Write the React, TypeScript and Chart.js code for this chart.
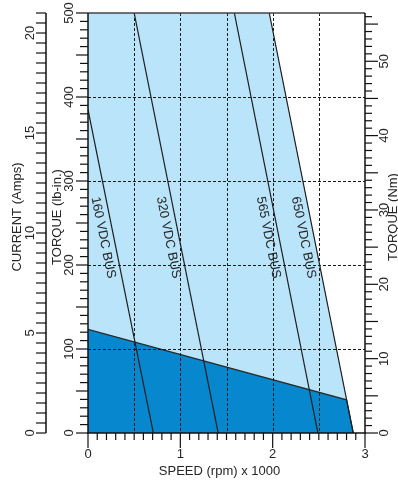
import React, { useEffect, useRef } from 'react';
import { Chart, registerables } from 'chart.js';

Chart.register(...registerables);

// ---- tick labels ----
const SPEED_TICKS = [0, 1, 2, 3];
const TORQUE_LB_TICKS = [0, 100, 200, 300, 400, 500];
const CURRENT_TICKS = [0, 5, 10, 15, 20];
const TORQUE_NM_TICKS = [0, 10, 20, 30, 40, 50];

// ---- axis titles ----
const X_TITLE = 'SPEED (rpm) x 1000';
const CURRENT_TITLE = 'CURRENT (Amps)';
const TORQUE_LB_TITLE = 'TORQUE (lb-in.)';
const TORQUE_NM_TITLE = 'TORQUE (Nm)';

// ---- intermittent envelope (speed krpm, torque lb-in) ----
const ENVELOPE_SPEED = [0, 1.963, 2.873];
const ENVELOPE_TORQUE = [500, 500, 0];

// ---- continuous region ----
const CONTINUOUS_SPEED = [0, 2.8, 2.873];
const CONTINUOUS_TORQUE = [123.5, 39.5, 0];

// ---- bus voltage lines ----
const BUS_LABELS = ['160 VDC BUS', '320 VDC BUS', '565 VDC BUS', '650 VDC BUS'];
const BUS_SPEED_START = [0, 0.5, 1.585, 1.963];
const BUS_TORQUE_START = [385, 500, 500, 500];
const BUS_SPEED_END = [0.708, 1.41, 2.49, 2.873];
const BUS_TORQUE_END = [0, 0, 0, 0];
const BUS_LABEL_TORQUE = 235;

const LB_IN_PER_NM = 8.8507;
const CURRENT_MAX = 21;

const FONT_FAMILY = "'Liberation Sans', Arial, Helvetica, sans-serif";
const TEXT_COLOR = '#262626';
const LIGHT_BLUE = '#B9E4F9';
const DARK_BLUE = '#0787CE';
const LINE_COLOR = '#1e1e1e';

const decorPlugin = {
  id: 'decor',
  afterDatasetsDraw(chart: any) {
    const { ctx, chartArea: a, scales } = chart;
    const x = scales.x;
    const y = scales.y;
    ctx.save();
    // dashed grid
    ctx.strokeStyle = '#1a1a1a';
    ctx.lineWidth = 1;
    ctx.setLineDash([3, 2]);
    for (let i = 1; i <= 5; i++) {
      const px = Math.round(x.getPixelForValue(i * 0.5)) + 0.5;
      ctx.beginPath();
      ctx.moveTo(px, a.top);
      ctx.lineTo(px, a.bottom);
      ctx.stroke();
    }
    for (const v of TORQUE_LB_TICKS) {
      if (v === 0 || v === 500) continue;
      const py = Math.round(y.getPixelForValue(v)) + 0.5;
      ctx.beginPath();
      ctx.moveTo(a.left, py);
      ctx.lineTo(a.right, py);
      ctx.stroke();
    }
    ctx.setLineDash([]);

    // bus labels
    ctx.fillStyle = TEXT_COLOR;
    ctx.font = `13px ${FONT_FAMILY}`;
    ctx.textAlign = 'center';
    ctx.textBaseline = 'middle';
    BUS_LABELS.forEach((label, i) => {
      const s0 = BUS_SPEED_START[i];
      const t0 = BUS_TORQUE_START[i];
      const s1 = BUS_SPEED_END[i];
      const t1 = BUS_TORQUE_END[i];
      const f = (t0 - BUS_LABEL_TORQUE) / (t0 - t1);
      const s = s0 + (s1 - s0) * f;
      const px = x.getPixelForValue(s);
      const py = y.getPixelForValue(BUS_LABEL_TORQUE);
      const ang = Math.atan2(
        y.getPixelForValue(t1) - y.getPixelForValue(t0),
        x.getPixelForValue(s1) - x.getPixelForValue(s0)
      );
      ctx.save();
      ctx.translate(px, py);
      ctx.rotate(ang);
      ctx.fillText(label, 0, 10.5);
      ctx.restore();
    });
    ctx.restore();
  },
  afterDraw(chart: any) {
    const { ctx, chartArea: a, scales } = chart;
    const x = scales.x;
    const y = scales.y;
    const cur = scales.yCur;
    const nm = scales.yNm;
    const line = (x0: number, y0: number, x1: number, y1: number) => {
      ctx.beginPath();
      ctx.moveTo(x0, y0);
      ctx.lineTo(x1, y1);
      ctx.stroke();
    };
    ctx.save();
    // top frame line
    ctx.strokeStyle = '#444';
    ctx.lineWidth = 1.6;
    line(a.left, a.top, a.right, a.top);

    ctx.strokeStyle = '#111';
    ctx.lineWidth = 1.5;
    line(a.left, a.top, a.left, a.bottom);
    line(a.right, a.top, a.right, a.bottom);
    line(a.left - 1, a.bottom, a.right + 1, a.bottom);
    const cx = cur.right;
    line(cx, a.top, cx, cur.getPixelForValue(0));

    ctx.lineWidth = 1.2;
    // x ticks
    for (let i = 0; i <= 30; i++) {
      const px = x.getPixelForValue(i / 10);
      const len = i % 10 === 0 ? 15 : 7;
      line(px, a.bottom, px, a.bottom + len);
    }
    // lb-in ticks
    for (let v = 0; v <= 500; v += 10) {
      const py = y.getPixelForValue(v);
      const len = v % 50 === 0 ? 12 : 8;
      line(a.left - len, py, a.left, py);
    }
    // current ticks
    for (let i = 0; i * 0.5 <= CURRENT_MAX; i++) {
      const py = cur.getPixelForValue(i * 0.5);
      line(cx - 10, py, cx, py);
    }
    // Nm ticks
    for (let v = 0; v <= nm.max; v++) {
      const py = nm.getPixelForValue(v);
      const len = v % 5 === 0 ? 13 : 7;
      line(a.right, py, a.right + len, py);
    }

    // titles
    ctx.fillStyle = TEXT_COLOR;
    ctx.font = `13px ${FONT_FAMILY}`;
    ctx.textAlign = 'center';
    ctx.textBaseline = 'middle';
    const midY = (a.top + a.bottom) / 2 - 6;
    const vText = (t: string, tx: number) => {
      ctx.save();
      ctx.translate(tx, midY);
      ctx.rotate(-Math.PI / 2);
      ctx.fillText(t, 0, 0);
      ctx.restore();
    };
    vText(CURRENT_TITLE, cur.left + 17);
    vText(TORQUE_LB_TITLE, y.left + 11);
    vText(TORQUE_NM_TITLE, nm.left + 28.5);
    ctx.fillText(X_TITLE, (a.left + a.right) / 2 - 7, x.bottom - 10);
    ctx.restore();
  },
};

export default function App() {
  const ref = useRef<HTMLCanvasElement | null>(null);

  useEffect(() => {
    document.body.style.margin = '0';
    const canvas = ref.current;
    if (!canvas) return;

    const font = { family: FONT_FAMILY, size: 13 };
    const pts = (xs: number[], ys: number[]) => xs.map((v, i) => ({ x: v, y: ys[i] }));

    const busSets = BUS_LABELS.map((label, i) => ({
      label,
      data: [
        { x: BUS_SPEED_START[i], y: BUS_TORQUE_START[i] },
        { x: BUS_SPEED_END[i], y: BUS_TORQUE_END[i] },
      ],
      borderColor: LINE_COLOR,
      borderWidth: 1.2,
      fill: false,
      pointRadius: 0,
      order: 0,
    }));

    const chart = new Chart(canvas, {
      type: 'line',
      data: {
        datasets: [
          ...busSets,
          {
            label: 'continuous',
            data: pts(CONTINUOUS_SPEED, CONTINUOUS_TORQUE),
            borderColor: '#2a2a2a',
            borderWidth: 1.2,
            backgroundColor: DARK_BLUE,
            fill: 'origin',
            pointRadius: 0,
            order: 8,
          },
          {
            label: 'envelope',
            data: pts(ENVELOPE_SPEED, ENVELOPE_TORQUE),
            borderWidth: 0,
            borderColor: 'rgba(0,0,0,0)',
            backgroundColor: LIGHT_BLUE,
            fill: 'origin',
            pointRadius: 0,
            order: 9,
          },
        ] as any,
      },
      options: {
        animation: false,
        responsive: false,
        devicePixelRatio: 1,
        layout: { padding: { top: 13, left: 0, right: 0, bottom: 0 } },
        plugins: {
          legend: { display: false },
          tooltip: { enabled: false },
          title: { display: false },
        },
        elements: { line: { tension: 0 }, point: { radius: 0 } },
        scales: {
          x: {
            type: 'linear',
            position: 'bottom',
            min: 0,
            max: 3,
            afterBuildTicks: (s: any) => {
              s.ticks = SPEED_TICKS.map((v) => ({ value: v }));
            },
            afterFit: (s: any) => {
              s.height = 48;
              s.paddingLeft = 0;
              s.paddingRight = 0;
            },
            grid: { display: false, drawTicks: false },
            border: { display: false },
            ticks: {
              font,
              color: TEXT_COLOR,
              padding: 14,
              maxRotation: 0,
              autoSkip: false,
              callback: (v: any) => String(v),
            },
          },
          y: {
            type: 'linear',
            position: 'left',
            weight: 0,
            min: 0,
            max: 500,
            afterBuildTicks: (s: any) => {
              s.ticks = TORQUE_LB_TICKS.map((v) => ({ value: v }));
            },
            afterFit: (s: any) => {
              s.width = 42;
              s.paddingTop = 0;
              s.paddingBottom = 0;
            },
            grid: { display: false, drawTicks: false },
            border: { display: false },
            ticks: {
              font,
              color: TEXT_COLOR,
              padding: 8,
              minRotation: 90,
              maxRotation: 90,
              crossAlign: 'center',
              autoSkip: false,
              callback: (v: any) => String(v),
            },
          },
          yCur: {
            type: 'linear',
            position: 'left',
            weight: 1,
            min: 0,
            max: CURRENT_MAX,
            afterBuildTicks: (s: any) => {
              s.ticks = CURRENT_TICKS.map((v) => ({ value: v }));
            },
            afterFit: (s: any) => {
              s.width = 46;
              s.paddingTop = 0;
              s.paddingBottom = 0;
            },
            grid: { display: false, drawTicks: false },
            border: { display: false },
            ticks: {
              font,
              color: TEXT_COLOR,
              padding: 8,
              minRotation: 90,
              maxRotation: 90,
              crossAlign: 'center',
              autoSkip: false,
              callback: (v: any) => String(v),
            },
          },
          yNm: {
            type: 'linear',
            position: 'right',
            min: 0,
            max: 500 / LB_IN_PER_NM,
            afterBuildTicks: (s: any) => {
              s.ticks = TORQUE_NM_TICKS.map((v) => ({ value: v }));
            },
            afterFit: (s: any) => {
              s.width = 33;
              s.paddingTop = 0;
              s.paddingBottom = 0;
            },
            grid: { display: false, drawTicks: false },
            border: { display: false },
            ticks: {
              font,
              color: TEXT_COLOR,
              padding: 12,
              minRotation: 90,
              maxRotation: 90,
              crossAlign: 'center',
              autoSkip: false,
              callback: (v: any) => String(v),
            },
          },
        } as any,
      },
      plugins: [decorPlugin],
    });

    return () => chart.destroy();
  }, []);

  return (
    <div style={{ width: 398, height: 481 }}>
      <canvas ref={ref} width={398} height={481} style={{ display: 'block' }} />
    </div>
  );
}
